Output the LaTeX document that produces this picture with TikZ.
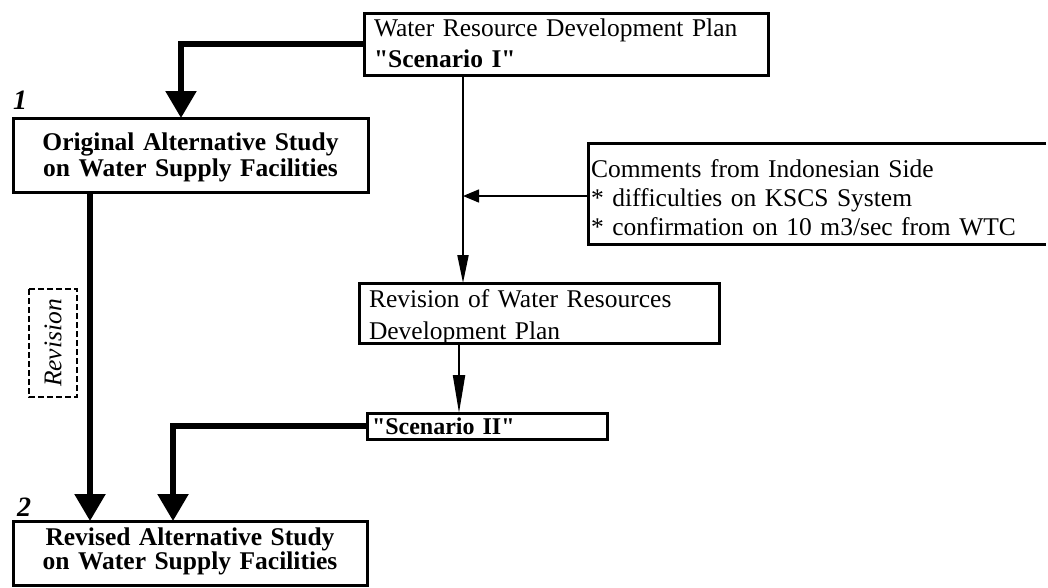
\documentclass[tikz,border=0pt]{standalone}
\usepackage{fontspec}
\setmainfont{Liberation Serif}
\usetikzlibrary{arrows.meta}
\begin{document}
\begin{tikzpicture}[x=1pt,y=-1pt,
  every node/.style={inner sep=0pt, outer sep=0pt},
  frame/.style={draw, line width=3pt, anchor=north west, rectangle},
  fat/.style={line width=5.5pt, -{Triangle[width=30pt,length=27pt]}},
  slim/.style={line width=2pt},
  lbl/.style={font=\fontsize{28}{28}\selectfont\bfseries\itshape},
]
\useasboundingbox (0,0) rectangle (1048,587);
\fill[white] (0,0) rectangle (1048,587);

% boxes
\node[frame, minimum width=404pt, minimum height=62pt, text width=384pt,
      align=left, font=\fontsize{25.5}{31}\selectfont,
      text height=17pt, text depth=33pt] (plan1) at (364,13)
  {Water Resource Development Plan\\\textbf{\textquotedbl Scenario I\textquotedbl}};

\node[frame, minimum width=355pt, minimum height=74pt, text width=340pt,
      align=center, font=\fontsize{25.5}{26}\selectfont\bfseries,
      text height=17pt, text depth=25.6pt] (orig) at (13,118)
  {Original Alternative Study\\on Water Supply Facilities};

\node[frame, minimum width=360pt, minimum height=60pt, text width=340pt,
      align=left, font=\fontsize{25.5}{32}\selectfont,
      text height=17pt, text depth=29pt] (rev) at (359,283)
  {Revision of Water Resources\\Development Plan};

\node[frame, minimum width=240pt, minimum height=26pt, text width=230pt,
      align=left, font=\fontsize{24}{26}\selectfont\bfseries,
      text height=17pt, text depth=0pt] (sc2) at (367,413)
  {\textquotedbl Scenario II\textquotedbl};

\node[frame, minimum width=354pt, minimum height=64pt, text width=340pt,
      align=center, font=\fontsize{25.5}{22}\selectfont\bfseries,
      text height=17pt, text depth=33pt] (res) at (13,521)
  {Revised Alternative Study\\on Water Supply Facilities};

% comments, box open towards the right
\node[anchor=north west, minimum width=458pt, minimum height=101pt,
      text width=452pt, align=left, font=\fontsize{25.5}{29}\selectfont,
      text height=17pt, text depth=50pt] (cmt) at (588,143)
  {Comments from Indonesian Side\\{}* difficulties on KSCS System\\{}* confirmation on 10 m3/sec from WTC};
\draw[line width=3pt] (cmt.north east) -- (cmt.north west) -- (cmt.south west) -- (cmt.south east);

% side label and step numbers
\node[draw, line width=1.2pt, dash pattern=on 6pt off 3pt, rotate=90,
      minimum width=108pt, minimum height=48pt,
      font=\fontsize{25.5}{26}\selectfont\itshape] (revlbl) at (53,343) {Revision};
\node[lbl] (n1) at (20,100) {1};
\node[lbl] (n2) at (24,507) {2};

% guide columns for the connectors
\coordinate (xa) at (181,0);
\coordinate (xb) at (90,0);
\coordinate (xc) at (173,0);
\coordinate (xs) at (463,0);
\coordinate (xt) at (459,0);
\coordinate (cmtin) at ([yshift=-2.5pt]cmt.west);

% connectors
\draw[fat] (plan1.west) -| (xa |- orig.north);
\draw[fat] (orig.south -| xb) -- (res.north -| xb);
\draw[fat] (sc2.west) -| (xc |- res.north);
\draw[slim, -{Triangle[width=11pt,length=28pt]}] (plan1.south -| xs) -- (rev.north -| xs);
\draw[slim, -{Triangle[width=12pt,length=38pt]}] (rev.south -| xt) -- (sc2.north -| xt);
\draw[line width=1.5pt, -{Triangle[width=13pt,length=16pt]}] (cmtin) -- (cmtin -| xs);
\end{tikzpicture}
\end{document}
